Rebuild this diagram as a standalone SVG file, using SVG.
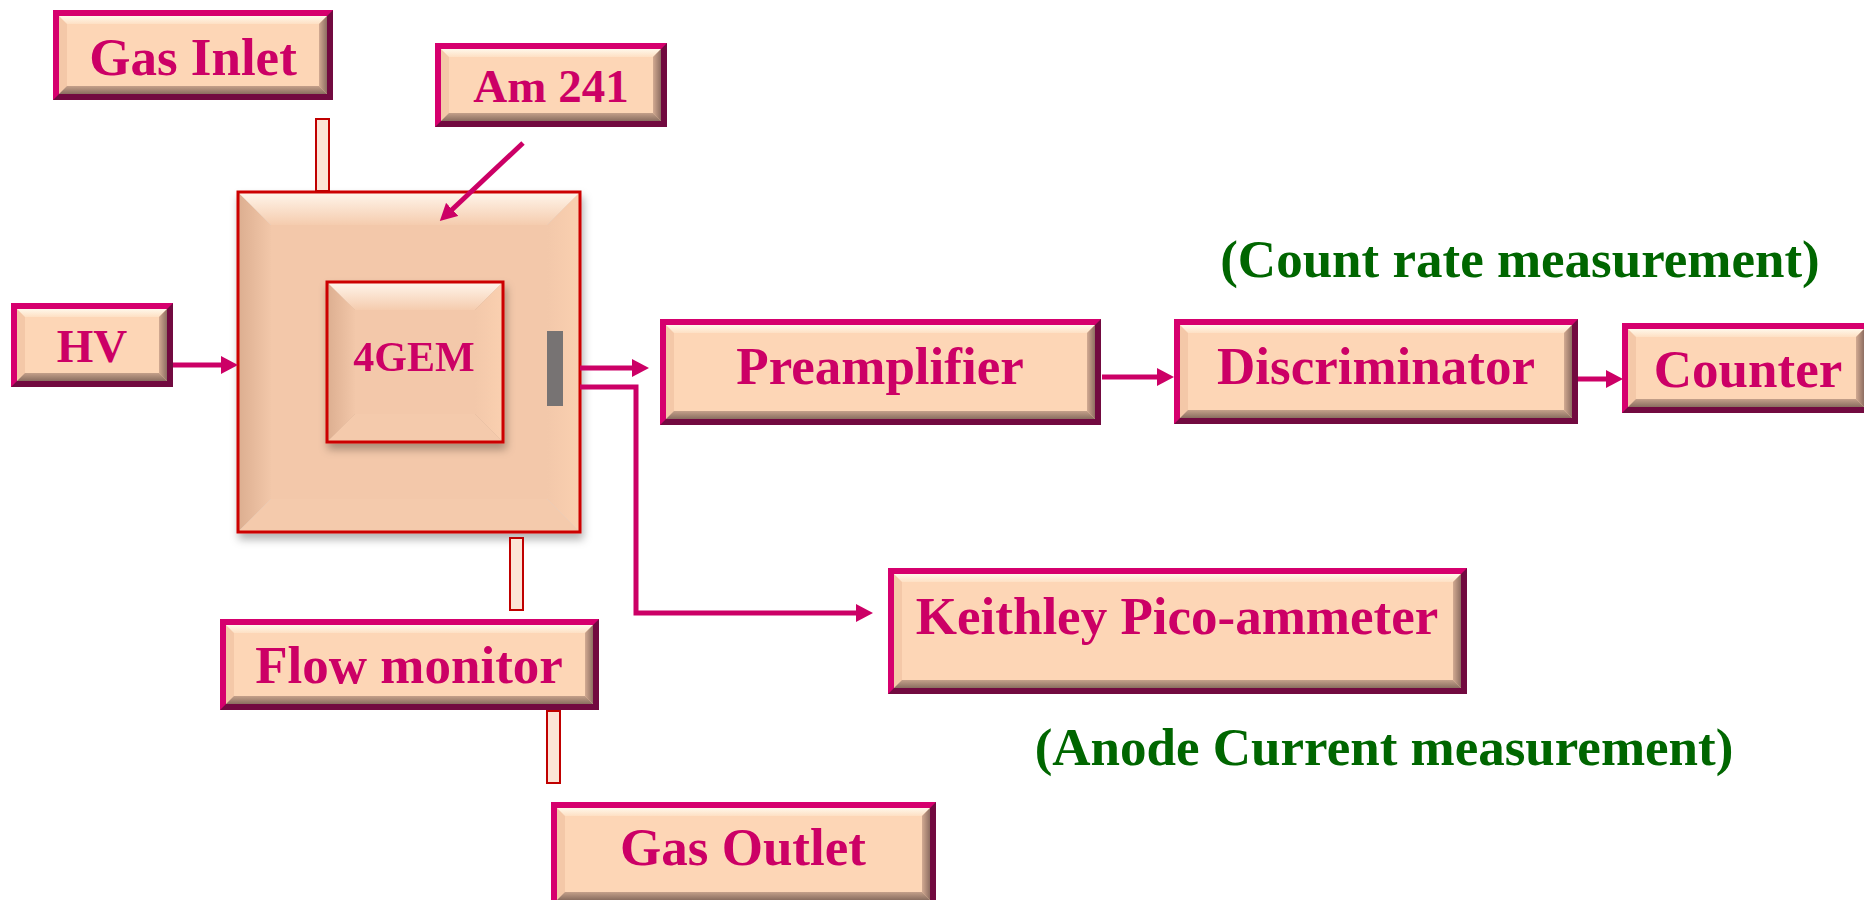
<svg xmlns="http://www.w3.org/2000/svg" width="1864" height="900" viewBox="0 0 1864 900">
<defs>
<style>
.fr{fill:#D6006E}
.frd{fill:#720A40}
.bl{fill:#F4C8A8}
.bt{fill:url(#gTop)}
.br{fill:url(#gRight)}
.bb{fill:url(#gBot)}
.bc{fill:#FDD6B6}
.lbl{font-family:"Liberation Serif","Times New Roman",serif;font-weight:bold;fill:#CC0066;text-anchor:middle}
.note{font-family:"Liberation Serif","Times New Roman",serif;font-weight:bold;fill:#006600;text-anchor:middle;font-size:53px}
.tube{fill:#FCE4D6;stroke:#C00000;stroke-width:2}
.cl{fill:none;stroke:#CC0066;stroke-width:5}
.ch-l{fill:url(#cLeft)}
.ch-t{fill:url(#cTop)}
.ch-r{fill:url(#cRight)}
.ch-b{fill:#F4CAAC}
.ch-c{fill:#F3C8AA}
.ch-bd{fill:none;stroke:#CC0000;stroke-width:3}
</style>
<linearGradient id="gTop" x1="0" y1="0" x2="0" y2="1"><stop offset="0" stop-color="#FFF8EA"/><stop offset="1" stop-color="#FEE0C4"/></linearGradient>
<linearGradient id="gBot" x1="0" y1="0" x2="0" y2="1"><stop offset="0" stop-color="#C4A08A"/><stop offset="1" stop-color="#8A6E60"/></linearGradient>
<linearGradient id="gRight" x1="0" y1="0" x2="1" y2="0"><stop offset="0" stop-color="#D2AA92"/><stop offset="1" stop-color="#8E6E62"/></linearGradient>
<linearGradient id="cTop" x1="0" y1="0" x2="0" y2="1"><stop offset="0" stop-color="#FFF6EC"/><stop offset="1" stop-color="#F5CCAE"/></linearGradient>
<linearGradient id="cLeft" x1="0" y1="0" x2="1" y2="0"><stop offset="0" stop-color="#DCAE90"/><stop offset="1" stop-color="#F2C7A9"/></linearGradient>
<linearGradient id="cRight" x1="0" y1="0" x2="1" y2="0"><stop offset="0" stop-color="#F3C8AA"/><stop offset="1" stop-color="#FAD0B0"/></linearGradient>
<filter id="sh" x="-10%" y="-10%" width="120%" height="125%"><feDropShadow dx="2" dy="6" stdDeviation="4" flood-color="#000" flood-opacity="0.3"/></filter>
<marker id="ah" markerUnits="userSpaceOnUse" markerWidth="17" markerHeight="18" refX="7" refY="9" orient="auto"><path d="M0,0 L17,9 L0,18 Z" fill="#CC0066"/></marker>
</defs>
<rect width="1864" height="900" fill="#FFFFFF"/>

<g id="chamber" filter="url(#sh)">
<polygon class="ch-l" points="238,192 271,225 271,499 238,532"/>
<polygon class="ch-t" points="238,192 580,192 547,225 271,225"/>
<polygon class="ch-r" points="580,192 580,532 547,499 547,225"/>
<polygon class="ch-b" points="238,532 580,532 547,499 271,499"/>
<rect class="ch-c" x="271" y="225" width="276" height="274"/>
<rect class="ch-bd" x="238" y="192" width="342" height="340"/>
</g>

<g id="gem" filter="url(#sh)">
<polygon class="ch-l" points="327,282 355,310 355,414 327,442"/>
<polygon class="ch-t" points="327,282 503,282 475,310 355,310"/>
<polygon class="ch-r" points="503,282 503,442 475,414 475,310"/>
<polygon class="ch-b" points="327,442 503,442 475,414 355,414"/>
<rect class="ch-c" x="355" y="310" width="120" height="104"/>
<rect class="ch-bd" x="327" y="282" width="176" height="160"/>
<text class="lbl" x="414" y="371" font-size="42">4GEM</text>
</g>

<g id="anode-pad">
<rect x="547" y="331" width="16" height="75" fill="#777373"/>
</g>

<g id="gas-inlet">
<rect class="fr" x="53" y="10" width="280" height="90"/>
<polygon class="frd" points="333,10 333,100 53,100 59,94 327,94 327,16"/>
<rect class="bl" x="59" y="16" width="268" height="78"/>
<polygon class="bt" points="59,16 327,16 319,24 67,24"/>
<polygon class="br" points="327,16 327,94 319,86 319,24"/>
<polygon class="bb" points="59,94 327,94 319,86 67,86"/>
<rect class="bc" x="67" y="24" width="252" height="62"/>
<text class="lbl" x="193" y="75" font-size="53">Gas Inlet</text>
</g>

<g id="am241">
<rect class="fr" x="435" y="43" width="232" height="84"/>
<polygon class="frd" points="667,43 667,127 435,127 441,121 661,121 661,49"/>
<rect class="bl" x="441" y="49" width="220" height="72"/>
<polygon class="bt" points="441,49 661,49 653,57 449,57"/>
<polygon class="br" points="661,49 661,121 653,113 653,57"/>
<polygon class="bb" points="441,121 661,121 653,113 449,113"/>
<rect class="bc" x="449" y="57" width="204" height="56"/>
<text class="lbl" x="551" y="102" font-size="47">Am 241</text>
</g>

<g id="hv">
<rect class="fr" x="11" y="303" width="162" height="84"/>
<polygon class="frd" points="173,303 173,387 11,387 17,381 167,381 167,309"/>
<rect class="bl" x="17" y="309" width="150" height="72"/>
<polygon class="bt" points="17,309 167,309 159,317 25,317"/>
<polygon class="br" points="167,309 167,381 159,373 159,317"/>
<polygon class="bb" points="17,381 167,381 159,373 25,373"/>
<rect class="bc" x="25" y="317" width="134" height="56"/>
<text class="lbl" x="92" y="362" font-size="47">HV</text>
</g>

<g id="preamplifier">
<rect class="fr" x="660" y="319" width="441" height="106"/>
<polygon class="frd" points="1101,319 1101,425 660,425 666,419 1095,419 1095,325"/>
<rect class="bl" x="666" y="325" width="429" height="94"/>
<polygon class="bt" points="666,325 1095,325 1087,333 674,333"/>
<polygon class="br" points="1095,325 1095,419 1087,411 1087,333"/>
<polygon class="bb" points="666,419 1095,419 1087,411 674,411"/>
<rect class="bc" x="674" y="333" width="413" height="78"/>
<text class="lbl" x="880" y="384" font-size="53">Preamplifier</text>
</g>

<g id="discriminator">
<rect class="fr" x="1174" y="319" width="404" height="105"/>
<polygon class="frd" points="1578,319 1578,424 1174,424 1180,418 1572,418 1572,325"/>
<rect class="bl" x="1180" y="325" width="392" height="93"/>
<polygon class="bt" points="1180,325 1572,325 1564,333 1188,333"/>
<polygon class="br" points="1572,325 1572,418 1564,410 1564,333"/>
<polygon class="bb" points="1180,418 1572,418 1564,410 1188,410"/>
<rect class="bc" x="1188" y="333" width="376" height="77"/>
<text class="lbl" x="1376" y="384" font-size="53">Discriminator</text>
</g>

<g id="counter">
<rect class="fr" x="1622" y="323" width="248" height="90"/>
<polygon class="frd" points="1870,323 1870,413 1622,413 1628,407 1864,407 1864,329"/>
<rect class="bl" x="1628" y="329" width="236" height="78"/>
<polygon class="bt" points="1628,329 1864,329 1856,337 1636,337"/>
<polygon class="br" points="1864,329 1864,407 1856,399 1856,337"/>
<polygon class="bb" points="1628,407 1864,407 1856,399 1636,399"/>
<rect class="bc" x="1636" y="337" width="220" height="62"/>
<text class="lbl" x="1748" y="387" font-size="53">Counter</text>
</g>

<g id="keithley">
<rect class="fr" x="888" y="568" width="579" height="126"/>
<polygon class="frd" points="1467,568 1467,694 888,694 894,688 1461,688 1461,574"/>
<rect class="bl" x="894" y="574" width="567" height="114"/>
<polygon class="bt" points="894,574 1461,574 1453,582 902,582"/>
<polygon class="br" points="1461,574 1461,688 1453,680 1453,582"/>
<polygon class="bb" points="894,688 1461,688 1453,680 902,680"/>
<rect class="bc" x="902" y="582" width="551" height="98"/>
<text class="lbl" x="1177" y="634" font-size="53">Keithley Pico-ammeter</text>
</g>

<g id="flow-monitor">
<rect class="fr" x="220" y="619" width="379" height="91"/>
<polygon class="frd" points="599,619 599,710 220,710 226,704 593,704 593,625"/>
<rect class="bl" x="226" y="625" width="367" height="79"/>
<polygon class="bt" points="226,625 593,625 585,633 234,633"/>
<polygon class="br" points="593,625 593,704 585,696 585,633"/>
<polygon class="bb" points="226,704 593,704 585,696 234,696"/>
<rect class="bc" x="234" y="633" width="351" height="63"/>
<text class="lbl" x="409" y="683" font-size="53">Flow monitor</text>
</g>

<g id="gas-outlet">
<rect class="fr" x="551" y="802" width="385" height="104"/>
<polygon class="frd" points="936,802 936,906 551,906 557,900 930,900 930,808"/>
<rect class="bl" x="557" y="808" width="373" height="92"/>
<polygon class="bt" points="557,808 930,808 922,816 565,816"/>
<polygon class="br" points="930,808 930,900 922,892 922,816"/>
<polygon class="bb" points="557,900 930,900 922,892 565,892"/>
<rect class="bc" x="565" y="816" width="357" height="76"/>
<text class="lbl" x="743" y="865" font-size="53">Gas Outlet</text>
</g>

<g id="notes">
<text class="note" x="1520" y="277">(Count rate measurement)</text>
<text class="note" x="1384" y="765">(Anode Current measurement)</text>
</g>

<g id="connectors">
<rect class="tube" x="316" y="119" width="13" height="72"/>
<rect class="tube" x="510" y="538" width="13" height="72"/>
<rect class="tube" x="547" y="711" width="13" height="72"/>
<line class="cl" x1="173" y1="365" x2="228" y2="365" marker-end="url(#ah)"/>
<line class="cl" x1="523" y1="143" x2="447.1" y2="214.2" marker-end="url(#ah)"/>
<line class="cl" x1="580" y1="368" x2="639" y2="368" marker-end="url(#ah)"/>
<path class="cl" d="M580,387 H636 V613 H863" marker-end="url(#ah)"/>
<line class="cl" x1="1102" y1="377" x2="1164" y2="377" marker-end="url(#ah)"/>
<line class="cl" x1="1578" y1="379" x2="1613" y2="379" marker-end="url(#ah)"/>
</g>
</svg>
